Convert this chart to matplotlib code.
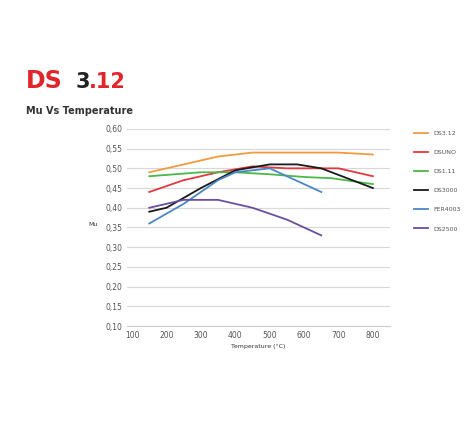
import matplotlib
matplotlib.use("Agg")
import matplotlib.pyplot as plt

# series data
ds312_t = [150, 250, 350, 450, 550, 700, 800]
ds312_mu = [0.49, 0.51, 0.53, 0.54, 0.54, 0.54, 0.535]
dsuno_t = [150, 250, 350, 450, 550, 650, 700, 800]
dsuno_mu = [0.44, 0.47, 0.49, 0.505, 0.50, 0.50, 0.50, 0.48]
ds111_t = [150, 300, 400, 500, 600, 680, 800]
ds111_mu = [0.48, 0.49, 0.49, 0.485, 0.478, 0.475, 0.46]
ds3000_t = [150, 200, 300, 400, 500, 580, 650, 800]
ds3000_mu = [0.39, 0.40, 0.45, 0.495, 0.51, 0.51, 0.50, 0.45]
fer_t = [150, 250, 350, 400, 500, 650]
fer_mu = [0.36, 0.41, 0.47, 0.49, 0.50, 0.44]
ds2500_t = [150, 250, 300, 350, 450, 550, 650]
ds2500_mu = [0.40, 0.42, 0.42, 0.42, 0.40, 0.37, 0.33]

series = [
    ("DS3.12", ds312_t, ds312_mu, "#f39a3e"),
    ("DSUNO", dsuno_t, dsuno_mu, "#e0393e"),
    ("DS1.11", ds111_t, ds111_mu, "#4cb849"),
    ("DS3000", ds3000_t, ds3000_mu, "#1a1a1a"),
    ("FER4003", fer_t, fer_mu, "#4a86c8"),
    ("DS2500", ds2500_t, ds2500_mu, "#6a4ea0"),
]
yticks = [0.10, 0.15, 0.20, 0.25, 0.30, 0.35, 0.40, 0.45, 0.50, 0.55, 0.60]
xticks = [100, 200, 300, 400, 500, 600, 700, 800]

fig = plt.figure(figsize=(4.7, 4.4), dpi=100)
ax = fig.add_axes([0.27, 0.259, 0.56, 0.448])
for name, t, mu, c in series:
    ax.plot(t, mu, color=c, lw=1.3, label=name)

ax.set_xlim(85, 850)
ax.set_ylim(0.10, 0.60)
ax.set_xticks(xticks)
ax.set_yticks(yticks)
ax.set_yticklabels([f"{v:.2f}".replace(".", ",") for v in yticks])
ax.grid(axis="y", color="#d8d8d8", lw=0.8)
for s in ["top", "right", "left"]:
    ax.spines[s].set_visible(False)
ax.spines["bottom"].set_color("#cccccc")
ax.tick_params(length=0, labelsize=5.5, colors="#555555")
ax.set_xlabel("Temperature (°C)", fontsize=4.5, color="#333333", labelpad=3)
ax.set_ylabel("Mu", fontsize=4.5, color="#333333", rotation=0, labelpad=12)
ax.yaxis.set_label_coords(-0.13, 0.5)

ax.legend(loc="upper left", bbox_to_anchor=(1.07, 1.02), frameon=False,
          fontsize=4.5, handlelength=2.2, labelspacing=2.2, labelcolor="#555555")

fig.text(0.055, 0.80, "DS", color="#e0262b", fontsize=17, fontweight="bold")
fig.text(0.16, 0.80, "3", color="#222222", fontsize=15, fontweight="bold")
fig.text(0.19, 0.80, ".12", color="#e0262b", fontsize=15, fontweight="bold")
fig.text(0.055, 0.74, "Mu Vs Temperature", color="#333333", fontsize=7, fontweight="bold")

fig.savefig("out.png", dpi=100)
